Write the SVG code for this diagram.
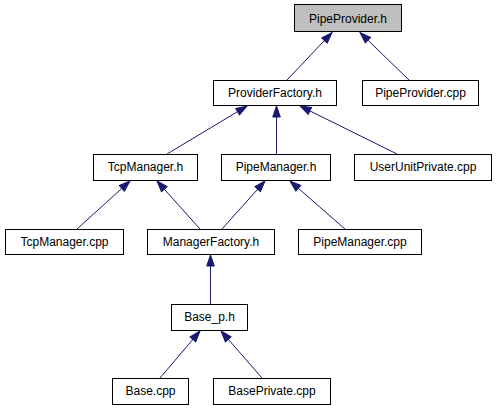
<svg xmlns="http://www.w3.org/2000/svg" width="496" height="411" viewBox="0 0 496 411">
<style>
.n rect{fill:#fff;stroke:#000;stroke-width:1}
.n.cur rect{fill:#bfbfbf}
.n text{font-family:"Liberation Sans",Arial,sans-serif;font-size:12px;text-anchor:middle;fill:#000}
.e line{stroke:#191970;stroke-width:1;marker-end:url(#ah)}
</style>
<defs>
<marker id="ah" markerUnits="userSpaceOnUse" markerWidth="13" markerHeight="10" refX="12" refY="5" orient="auto" viewBox="0 0 13 10">
<path d="M1,1.2 L12,5 L1,8.8 z" fill="#191970" stroke="#191970" stroke-width="1"/>
</marker>
</defs>
<rect width="496" height="411" fill="#fff"/>
<g id="edges" class="e">
<line x1="287" y1="80" x2="332" y2="32.5"/>
<line x1="409" y1="80" x2="360" y2="32.5"/>
<line x1="167" y1="154" x2="247" y2="106"/>
<line x1="276.5" y1="154" x2="276.5" y2="106"/>
<line x1="397" y1="154" x2="300" y2="106"/>
<line x1="77" y1="229" x2="130" y2="181"/>
<line x1="200" y1="229" x2="157" y2="181"/>
<line x1="222" y1="229" x2="265" y2="181"/>
<line x1="345" y1="229" x2="290" y2="181"/>
<line x1="210.5" y1="304" x2="210.5" y2="255"/>
<line x1="160" y1="378" x2="200" y2="331"/>
<line x1="262" y1="378" x2="221" y2="331"/>
</g>
<g id="PipeProvider_h" class="n cur"><rect x="294.5" y="4.5" width="107" height="27"/><text x="348" y="22.5">PipeProvider.h</text></g>
<g id="ProviderFactory_h" class="n"><rect x="213.5" y="80.5" width="123" height="25"/><text x="275" y="97">ProviderFactory.h</text></g>
<g id="PipeProvider_cpp" class="n"><rect x="362.5" y="80.5" width="116" height="25"/><text x="420.5" y="97">PipeProvider.cpp</text></g>
<g id="TcpManager_h" class="n"><rect x="93.5" y="154.5" width="104" height="26"/><text x="145.5" y="171">TcpManager.h</text></g>
<g id="PipeManager_h" class="n"><rect x="221.5" y="154.5" width="109" height="26"/><text x="276" y="171">PipeManager.h</text></g>
<g id="UserUnitPrivate_cpp" class="n"><rect x="354.5" y="154.5" width="137" height="26"/><text x="423" y="171">UserUnitPrivate.cpp</text></g>
<g id="TcpManager_cpp" class="n"><rect x="5.5" y="229.5" width="118" height="25"/><text x="64.5" y="246">TcpManager.cpp</text></g>
<g id="ManagerFactory_h" class="n"><rect x="147.5" y="229.5" width="127" height="25"/><text x="211" y="246">ManagerFactory.h</text></g>
<g id="PipeManager_cpp" class="n"><rect x="298.5" y="229.5" width="123" height="25"/><text x="360" y="246">PipeManager.cpp</text></g>
<g id="Base_p_h" class="n"><rect x="171.5" y="304.5" width="76" height="26"/><text x="209.5" y="321">Base_p.h</text></g>
<g id="Base_cpp" class="n"><rect x="112.5" y="378.5" width="76" height="26"/><text x="150.5" y="395">Base.cpp</text></g>
<g id="BasePrivate_cpp" class="n"><rect x="213.5" y="378.5" width="117" height="26"/><text x="272" y="395">BasePrivate.cpp</text></g>
</svg>
